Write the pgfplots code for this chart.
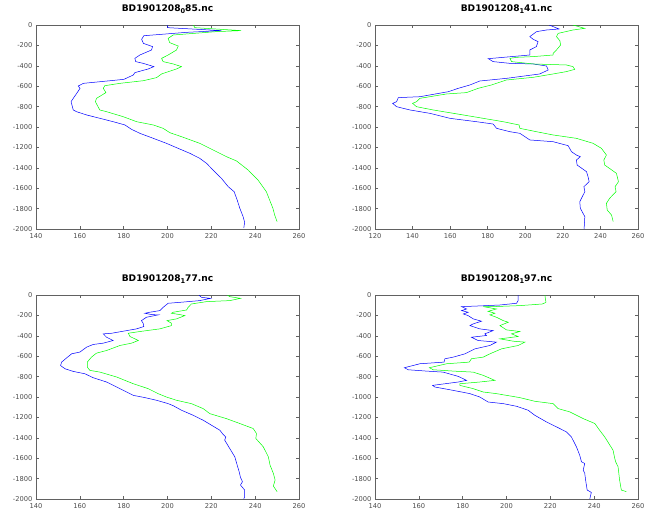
\documentclass[border=0pt]{standalone}
\usepackage{fontspec}
\setmainfont{DejaVu Sans}
\usepackage{pgfplots}
\pgfplotsset{compat=1.18}
\definecolor{axgray}{gray}{0.38}
\newcommand{\sub}[1]{\raisebox{-2.6pt}{\fontsize{6.6}{7}\selectfont #1}}
\pgfplotsset{
  prof/.style={
    scale only axis, width=263pt, height=204pt,
    anchor=south west,
    ymin=-2000, ymax=0,
    ytick={-2000,-1800,...,0},
    yticklabels={-2000,-1800,-1600,-1400,-1200,-1000,-800,-600,-400,-200,0},
    axis line style={axgray, line width=0.5pt},
    tick style={axgray, line width=0.5pt},
    major tick length=3pt,
    tick align=inside,
    xtick pos=both, ytick pos=both,
    ticklabel style={font=\fontsize{6.7}{7}\selectfont, text=black!70},
    xticklabel style={yshift=-1pt},
    title style={at={(0.5,1)}, anchor=south, yshift=1.5pt, font=\fontsize{9.1}{10}\selectfont\bfseries},
    clip=true,
  },
  bl/.style={blue, line width=0.5pt},
  gr/.style={green, line width=0.5pt},
}
\begin{document}
\begin{tikzpicture}
% ---------------- Plot 1
\begin{axis}[prof, at={(36pt,286pt)}, xmin=140, xmax=260, xtick={140,160,...,260},
  xticklabels={140,160,180,200,220,240,260},
  title={BD1901208\sub{0}85.nc}]
\addplot[bl] coordinates {
(200,0)(200,-26)(224.6,-55)(208.7,-72)(189.2,-105)(188.2,-140)(189,-180)(193.2,-212)(192.7,-245)(187.4,-294)(185.1,-327)(185.5,-359)(188.9,-376)(193.8,-408)(191.2,-431)(185.1,-467)(184.4,-490)(180.1,-533)(169.2,-556)(161.6,-572)(159.3,-598)(160.1,-621)(158.8,-663)(157,-719)(156,-752)(157,-833)(158.5,-850)(163.1,-882)(169.2,-915)(175.2,-948)(180.6,-980)(183.6,-1023)(187.4,-1062)(193.5,-1111)(199.5,-1160)(205.6,-1216)(210.2,-1258)(214.7,-1307)(217.8,-1356)(220.8,-1422)(224.6,-1503)(227.7,-1585)(230.4,-1634)(231.8,-1716)(233,-1797)(234.5,-1879)(235.2,-1935)(234.8,-1990)
};
\addplot[gr] coordinates {
(211.7,0)(212.5,-26)(233.6,-55)(222.3,-65)(202.6,-98)(200.3,-131)(201,-173)(204.9,-206)(204.1,-245)(200.3,-294)(197.3,-327)(198,-359)(202.6,-382)(206.4,-408)(204.1,-431)(197.3,-480)(195,-516)(189,-546)(178.3,-572)(171.4,-595)(170.7,-621)(171.9,-663)(167.6,-719)(167.1,-752)(169.1,-833)(172.2,-850)(179.8,-899)(185.9,-948)(193.5,-980)(198,-1013)(201.1,-1056)(206.4,-1095)(214.7,-1160)(220.8,-1225)(226.9,-1291)(231.5,-1333)(236.8,-1422)(241.3,-1520)(245.1,-1634)(246.6,-1716)(248.1,-1797)(248.9,-1863)(250,-1928)
};
\end{axis}
% ---------------- Plot 2
\begin{axis}[prof, at={(375pt,286pt)}, xmin=120, xmax=260, xtick={120,140,...,260},
  xticklabels={120,140,160,180,200,220,240,260},
  title={BD1901208\sub{1}41.nc}]
\addplot[bl] coordinates {
(212.7,0)(218,-39)(211.3,-49)(206,-65)(202.4,-114)(204.2,-140)(206.8,-163)(205.9,-212)(202.4,-245)(202.4,-294)(192.7,-310)(180.3,-330)(182.9,-359)(191.8,-376)(204.2,-382)(211.3,-402)(212.2,-441)(207.7,-480)(190,-523)(175.8,-549)(170.5,-588)(164.3,-621)(159,-654)(143.9,-703)(132.4,-712)(131.5,-752)(129.4,-768)(131.5,-801)(138.6,-833)(149.2,-866)(159.9,-915)(174,-948)(182.9,-971)(184.7,-1013)(191.8,-1046)(197.1,-1062)(202.4,-1127)(214.8,-1144)(222.8,-1183)(224.6,-1242)(227.2,-1275)(229.3,-1291)(227.2,-1324)(227.6,-1373)(232.6,-1438)(233.4,-1487)(234,-1536)(231.2,-1585)(231.7,-1634)(229,-1732)(229.3,-1797)(231.7,-1879)(231.3,-2000)
};
\addplot[gr] coordinates {
(225.4,0)(231.6,-33)(225.4,-49)(217.5,-82)(216.6,-114)(218.4,-154)(218.8,-196)(216.6,-245)(214.8,-278)(214.8,-294)(204.2,-310)(195.3,-317)(191.8,-327)(192.7,-359)(204.2,-382)(221.9,-392)(225.4,-408)(226.3,-435)(221.9,-457)(214.8,-480)(204.2,-513)(190,-539)(182,-588)(174.9,-621)(168.7,-663)(158.1,-676)(143.9,-719)(142.1,-752)(140,-768)(142.1,-801)(151,-833)(167,-882)(177.6,-915)(188.2,-948)(196.7,-980)(197.1,-1013)(205.9,-1046)(214.8,-1078)(227.2,-1111)(236.1,-1160)(240.5,-1209)(243.2,-1275)(241.8,-1324)(242.3,-1373)(248.5,-1454)(249.6,-1536)(247.8,-1585)(248.3,-1634)(244.9,-1699)(243.2,-1748)(243.6,-1814)(245.9,-1863)(246.8,-1928)
};
\end{axis}
% ---------------- Plot 3
\begin{axis}[prof, at={(36pt,16pt)}, xmin=140, xmax=260, xtick={140,160,...,260},
  xticklabels={140,160,180,200,220,240,260},
  title={BD1901208\sub{1}77.nc}]
\addplot[bl] coordinates {
(214.4,0)(215.5,-23)(219.6,-33)(214.7,-55)(205.6,-72)(200.3,-81)(198,-121)(196.5,-153)(191.9,-169)(189.7,-179)(192.7,-192)(195.7,-195)(190.4,-218)(188.1,-251)(188.9,-277)(189.2,-309)(185.9,-332)(179.8,-355)(174.5,-375)(170.7,-381)(172.2,-414)(175.2,-446)(170.7,-472)(166.1,-485)(163.1,-511)(160,-560)(156.3,-576)(154,-616)(151.7,-658)(151.2,-691)(153.2,-723)(157,-749)(162.3,-772)(166.1,-811)(172.2,-853)(178.3,-918)(184.4,-984)(189.7,-1006)(195,-1032)(200.3,-1065)(202.6,-1085)(206.4,-1130)(211.7,-1179)(216.3,-1228)(220.1,-1277)(223.9,-1326)(225.4,-1368)(226.6,-1391)(226.1,-1423)(228.4,-1505)(230.7,-1586)(231.8,-1668)(232.7,-1733)(233.3,-1788)(234.2,-1830)(233.3,-1863)(235.2,-1912)(235.2,-1977)(234.8,-2000)
};
\addplot[gr] coordinates {
(227.3,0)(228.4,-16)(233.3,-33)(228.4,-55)(217.8,-65)(210.9,-88)(209.4,-121)(208.7,-147)(202.6,-169)(201.8,-179)(205.6,-192)(207.9,-202)(204.1,-234)(199.8,-251)(201.8,-277)(201.8,-300)(196.5,-332)(187.4,-358)(182.1,-375)(182.9,-407)(186.7,-446)(183.6,-472)(178.3,-495)(172.2,-544)(167.6,-570)(165.3,-609)(163.4,-658)(163.4,-707)(164.6,-739)(169.2,-756)(176.8,-804)(184.4,-870)(191.2,-918)(195.7,-967)(199.5,-1000)(204.1,-1032)(210.9,-1065)(216.3,-1114)(219.3,-1163)(226.9,-1212)(233,-1260)(239.1,-1309)(240.6,-1358)(240.3,-1407)(243.7,-1488)(246,-1586)(246.8,-1668)(248.3,-1749)(249.1,-1814)(248.3,-1873)(250,-1928)
};
\end{axis}
% ---------------- Plot 4
\begin{axis}[prof, at={(375pt,16pt)}, xmin=140, xmax=260, xtick={140,160,...,260},
  xticklabels={140,160,180,200,220,240,260},
  title={BD1901208\sub{1}97.nc}]
\addplot[bl] coordinates {
(205.3,0)(205.3,-55)(204.6,-81)(197,-98)(187.8,-107)(179.5,-114)(181.8,-137)(179.5,-153)(182.5,-169)(180.3,-186)(182.5,-202)(184.8,-234)(188.6,-257)(184.8,-283)(183.3,-300)(187.8,-332)(193.9,-349)(190.1,-381)(190.9,-397)(184,-414)(187,-446)(195.4,-462)(192.4,-495)(185.6,-528)(181,-577)(175.7,-609)(171.9,-625)(171.5,-658)(160.5,-674)(153.4,-713)(155.2,-733)(163.5,-746)(171.1,-756)(178,-798)(181.8,-837)(178,-853)(166.3,-886)(167.3,-902)(175.7,-935)(183.3,-967)(187.8,-1000)(191.6,-1049)(198.5,-1065)(204.6,-1091)(209.9,-1130)(212.9,-1179)(218.2,-1244)(224.3,-1309)(227.3,-1342)(229.6,-1391)(231.9,-1488)(233.4,-1570)(234.2,-1635)(235.7,-1651)(235,-1716)(235.7,-1749)(236.2,-1830)(236.8,-1912)(238.7,-1935)(238,-2000)
};
\addplot[gr] coordinates {
(217.5,0)(218,-72)(216.4,-88)(206.1,-104)(193.9,-114)(189.4,-114)(195.4,-137)(191.6,-160)(194.7,-179)(192.4,-195)(195.4,-218)(198.5,-251)(200.8,-267)(197,-300)(200,-342)(206.1,-358)(202.3,-381)(205.3,-407)(197,-430)(203.1,-453)(208.4,-462)(205.3,-495)(197.7,-528)(192.4,-577)(189.4,-609)(184,-625)(183,-658)(172.7,-674)(164.8,-713)(166.6,-733)(175.7,-746)(184.8,-756)(189.4,-788)(194.7,-837)(187.8,-853)(178.7,-870)(178.7,-886)(184.8,-918)(189.4,-951)(195.4,-967)(206.1,-1006)(212.9,-1042)(221.3,-1065)(223.6,-1114)(228.9,-1146)(235,-1212)(240.3,-1260)(242.5,-1326)(244.8,-1391)(248.6,-1521)(249.4,-1602)(249.8,-1635)(250.9,-1684)(251.6,-1814)(252.4,-1912)(254.7,-1928)
};
\end{axis}
\pgfresetboundingbox
\path[use as bounding box] (0pt,0pt) rectangle (645pt,515pt);
\end{tikzpicture}
\end{document}
